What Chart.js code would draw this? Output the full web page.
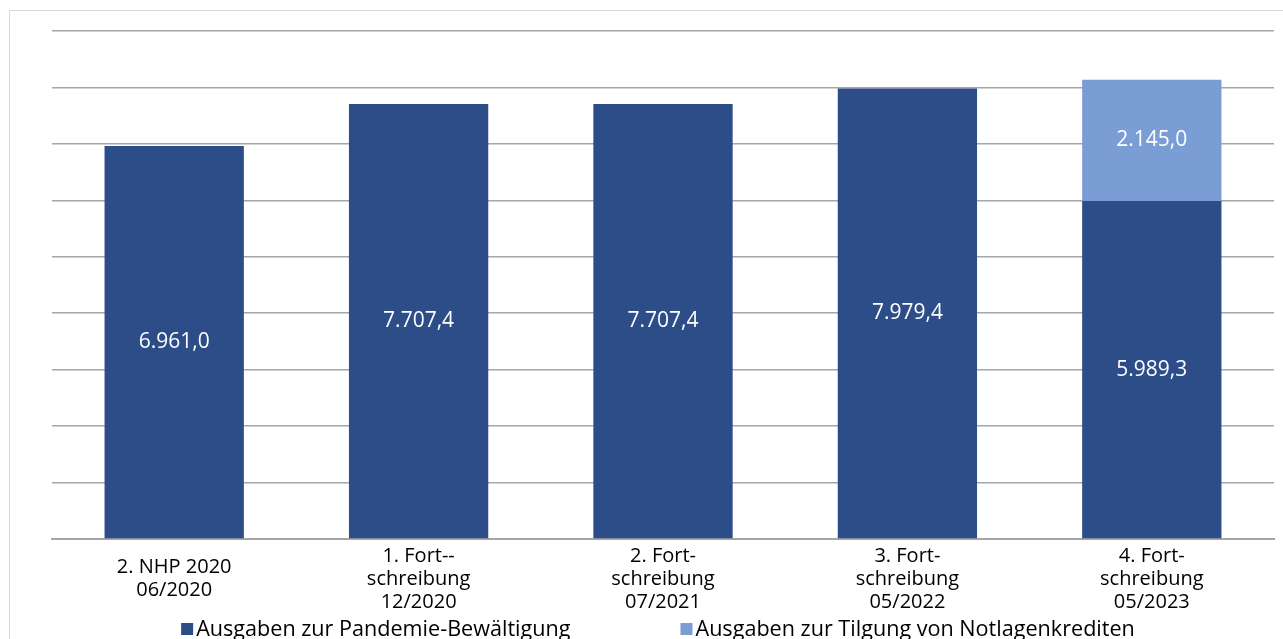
<!DOCTYPE html>
<html>
<head>
<meta charset="utf-8">
<script src="https://cdn.jsdelivr.net/npm/chart.js@4/dist/chart.umd.min.js"></script>
<style>
  html, body { margin: 0; padding: 0; background: #fff; overflow: hidden; }
  #rahmen { position: absolute; left: 9px; top: 10px; width: 1300px; height: 700px; border: 1px solid #d9d9d9; }
  #wrap { position: absolute; left: 0; top: 0; width: 1283px; height: 639px; }
</style>
</head>
<body>
<div id="rahmen"></div>
<div id="wrap"><canvas id="chart" width="1283" height="639"></canvas></div>
<script>
// Kategorien (mehrzeilige Achsenbeschriftung)
const kategorien = [
  ['2. NHP 2020', '06/2020'],
  ['1. Fort--', 'schreibung', '12/2020'],
  ['2. Fort-', 'schreibung', '07/2021'],
  ['3. Fort-', 'schreibung', '05/2022'],
  ['4. Fort-', 'schreibung', '05/2023']
];
const pandemie = [6961.0, 7707.4, 7707.4, 7979.4, 5989.3];
const tilgung = [null, null, null, null, 2145.0];

const fmt = v => v.toLocaleString('de-DE', { minimumFractionDigits: 1, maximumFractionDigits: 1 });

// Werte mittig in die Balken schreiben
const wertLabels = {
  id: 'wertLabels',
  afterDatasetsDraw(chart) {
    const ctx = chart.ctx;
    ctx.save();
    ctx.fillStyle = '#ffffff';
    ctx.font = '21px "Open Sans"';
    ctx.textAlign = 'center';
    ctx.textBaseline = 'middle';
    chart.data.datasets.forEach((ds, i) => {
      chart.getDatasetMeta(i).data.forEach((bar, j) => {
        const v = ds.data[j];
        if (v == null) return;
        const p = bar.getCenterPoint();
        ctx.fillText(fmt(v), p.x, p.y);
      });
    });
    ctx.restore();
  }
};

// Legende unten, wie im Original mit grossem Abstand
const legendeUnten = {
  id: 'legendeUnten',
  afterDraw(chart) {
    const ctx = chart.ctx;
    const box = 12, gap = 3, abstand = 110, y = 629;
    ctx.save();
    ctx.font = '21.6px "Open Sans"';
    ctx.textBaseline = 'middle';
    const items = chart.data.datasets.map(ds => ({ text: ds.label, color: ds.backgroundColor, w: ctx.measureText(ds.label).width }));
    const total = items.reduce((s, it) => s + box + gap + it.w, 0) + abstand * (items.length - 1);
    let x = (chart.chartArea.left + chart.chartArea.right) / 2 - 5 - total / 2;
    items.forEach(it => {
      ctx.fillStyle = it.color;
      ctx.fillRect(x, y - box / 2, box, box);
      ctx.fillStyle = '#000';
      ctx.fillText(it.text, x + box + gap, y + 1);
      x += box + gap + it.w + abstand;
    });
    ctx.restore();
  }
};

new Chart(document.getElementById('chart').getContext('2d'), {
  type: 'bar',
  data: {
    labels: kategorien,
    datasets: [{
      label: 'Ausgaben zur Pandemie-Bewältigung',
      data: pandemie,
      backgroundColor: '#2c4d88',
      categoryPercentage: 1,
      barPercentage: 0.57
    }, {
      label: 'Ausgaben zur Tilgung von Notlagenkrediten',
      data: tilgung,
      backgroundColor: '#7b9dd5',
      categoryPercentage: 1,
      barPercentage: 0.57
    }]
  },
  options: {
    responsive: false,
    animation: false,
    layout: { padding: { left: 52, right: 9, top: 31, bottom: 5 } },
    plugins: {
      legend: { display: false },
      tooltip: { enabled: false }
    },
    scales: {
      x: {
        stacked: true,
        grid: { display: false },
        border: { color: '#a6a6a6', width: 2 },
        ticks: {
          color: '#000', padding: 9, maxRotation: 0, crossAlign: 'center',
          font: { family: 'Open Sans', size: 20, lineHeight: 1.15 }
        }
      },
      y: {
        stacked: true,
        min: 0, max: 9000,
        ticks: { stepSize: 1000, display: false },
        border: { display: false },
        grid: { color: '#a6a6a6', lineWidth: 1.5, drawTicks: false }
      }
    }
  },
  plugins: [wertLabels, legendeUnten]
});
</script>
</body>
</html>
